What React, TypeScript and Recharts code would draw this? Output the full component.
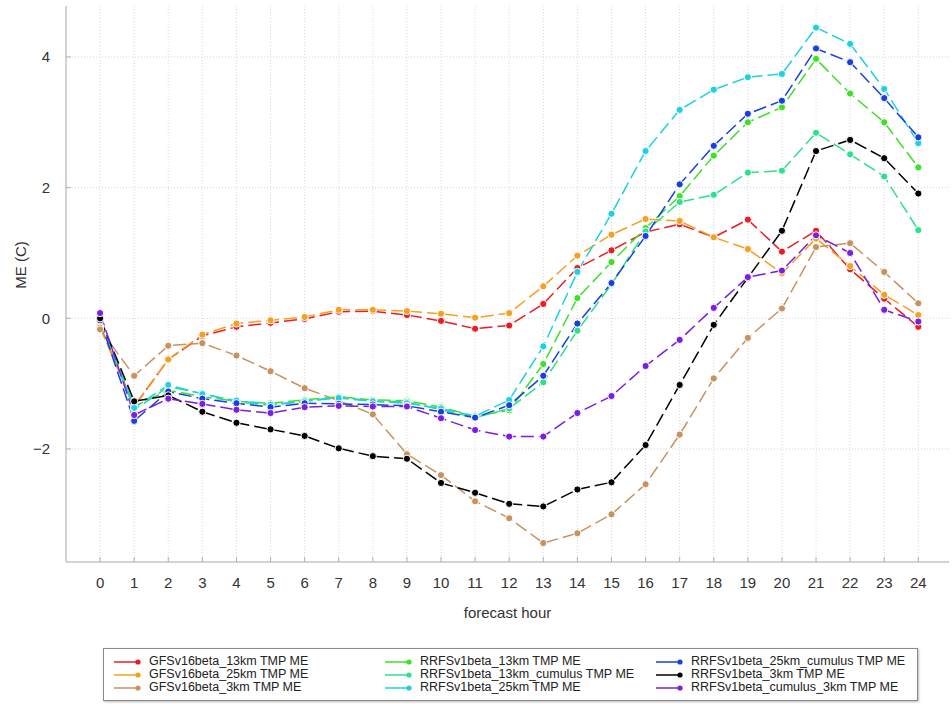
import React from "react";
import { LineChart, Line, XAxis, YAxis, CartesianGrid } from "recharts";

// forecast hours 0..24
const hours = [0, 1, 2, 3, 4, 5, 6, 7, 8, 9, 10, 11, 12, 13, 14, 15, 16, 17, 18, 19, 20, 21, 22, 23, 24];
const yTicks = [-2, 0, 2, 4];

const gfs13km = [-0.12, -1.35, -0.63, -0.27, -0.13, -0.07, -0.01, 0.1, 0.11, 0.05, -0.04, -0.16, -0.11, 0.22, 0.77, 1.04, 1.32, 1.44, 1.24, 1.51, 1.02, 1.34, 0.75, 0.3, -0.13];
const gfs25km = [-0.14, -1.35, -0.63, -0.25, -0.08, -0.03, 0.02, 0.13, 0.13, 0.11, 0.07, 0.01, 0.08, 0.49, 0.96, 1.28, 1.52, 1.49, 1.24, 1.06, 0.69, 1.22, 0.8, 0.36, 0.05];
const gfs3km = [-0.17, -0.88, -0.42, -0.38, -0.57, -0.81, -1.07, -1.26, -1.47, -2.08, -2.4, -2.8, -3.06, -3.44, -3.29, -3.0, -2.54, -1.78, -0.92, -0.3, 0.15, 1.09, 1.15, 0.71, 0.23];
const rrfs13km = [-0.02, -1.35, -1.1, -1.2, -1.27, -1.3, -1.25, -1.2, -1.25, -1.26, -1.36, -1.5, -1.41, -0.7, 0.31, 0.86, 1.38, 1.87, 2.49, 3.0, 3.23, 3.97, 3.44, 3.0, 2.31];
const rrfs13kmCu = [-0.02, -1.4, -1.05, -1.15, -1.28, -1.33, -1.27, -1.2, -1.27, -1.28, -1.4, -1.52, -1.38, -0.98, -0.19, 0.52, 1.33, 1.78, 1.89, 2.23, 2.26, 2.84, 2.51, 2.17, 1.35];
const rrfs25km = [-0.01, -1.37, -1.02, -1.16, -1.26, -1.32, -1.27, -1.22, -1.27, -1.3, -1.38, -1.5, -1.25, -0.43, 0.71, 1.6, 2.56, 3.19, 3.5, 3.69, 3.74, 4.45, 4.2, 3.51, 2.68];
const rrfs25kmCu = [-0.03, -1.57, -1.12, -1.23, -1.3, -1.36, -1.3, -1.31, -1.32, -1.34, -1.43, -1.52, -1.33, -0.88, -0.08, 0.54, 1.26, 2.05, 2.64, 3.13, 3.33, 4.13, 3.92, 3.37, 2.77];
const rrfs3km = [0.0, -1.27, -1.18, -1.43, -1.6, -1.7, -1.8, -1.99, -2.11, -2.15, -2.52, -2.67, -2.84, -2.88, -2.62, -2.51, -1.94, -1.02, -0.1, 0.62, 1.34, 2.56, 2.73, 2.45, 1.91];
const rrfsCu3km = [0.08, -1.48, -1.23, -1.31, -1.4, -1.45, -1.36, -1.34, -1.35, -1.35, -1.53, -1.71, -1.81, -1.81, -1.45, -1.19, -0.73, -0.33, 0.16, 0.63, 0.73, 1.27, 1.0, 0.13, -0.05];

const seriesNames = [
  "GFSv16beta_13km TMP ME",
  "GFSv16beta_25km TMP ME",
  "GFSv16beta_3km TMP ME",
  "RRFSv1beta_13km TMP ME",
  "RRFSv1beta_13km_cumulus TMP ME",
  "RRFSv1beta_25km TMP ME",
  "RRFSv1beta_25km_cumulus TMP ME",
  "RRFSv1beta_3km TMP ME",
  "RRFSv1beta_cumulus_3km TMP ME",
];
const seriesValues = [gfs13km, gfs25km, gfs3km, rrfs13km, rrfs13kmCu, rrfs25km, rrfs25kmCu, rrfs3km, rrfsCu3km];
const seriesColors = ["#ec1c24", "#f4a020", "#c8925e", "#3ee02a", "#2ee08c", "#1ed0e0", "#1a3fe0", "#000000", "#7a1ee0"];

const data = hours.map((h, i) => {
  const row: Record<string, number> = { hour: h };
  seriesValues.forEach((vals, k) => {
    row["s" + k] = vals[i];
  });
  return row;
});

const font = "'Liberation Sans', Arial, sans-serif";
const legendCols = [10, 281, 552];
const frame = { stroke: "#c4c4c4", strokeWidth: 1.5 };

function LegendBox() {
  return (
    <div
      style={{
        position: "absolute",
        left: 103,
        top: 648,
        width: 813,
        height: 51,
        border: "1px solid #8a8a8a",
        boxShadow: "1px 1px 2px #bbb",
        fontFamily: font,
        fontSize: 12.5,
        color: "#222",
        background: "#fff",
      }}
    >
      {seriesNames.map((name, k) => {
        const col = Math.floor(k / 3);
        const row = k % 3;
        return (
          <div
            key={name}
            style={{ position: "absolute", left: legendCols[col], top: 6 + row * 13, height: 13, lineHeight: "13px", whiteSpace: "nowrap", display: "flex", alignItems: "center" }}
          >
            <svg width={28} height={10} style={{ marginRight: 7 }}>
              <line x1={0} y1={5} x2={24} y2={5} stroke={seriesColors[k]} strokeWidth={1.5} />
              <circle cx={24} cy={5} r={2.6} fill={seriesColors[k]} />
            </svg>
            <span>{name}</span>
          </div>
        );
      })}
    </div>
  );
}

export default function App() {
  return (
    <div style={{ position: "absolute", left: 0, top: 0, width: 952, height: 704, background: "#fff" }}>
      <LineChart width={952} height={704} data={data} margin={{ top: 6, right: 3, left: 8, bottom: 92 }}>
        <CartesianGrid stroke="#d8d8d8" strokeDasharray="1 2" verticalValues={hours} horizontalValues={yTicks} />
        <XAxis
          dataKey="hour"
          type="number"
          domain={[-1, 24.9]}
          ticks={hours}
          interval={0}
          allowDataOverflow
          height={50}
          tickLine={{ stroke: "#b0b0b0" }}
          tickSize={-5}
          tickMargin={20}
          axisLine={frame}
          tick={{ fill: "#333", fontSize: 15, fontFamily: font }}
          label={{ value: "forecast hour", position: "insideBottom", offset: -6, fill: "#333", fontSize: 15, fontFamily: font }}
        />
        <XAxis xAxisId="top" orientation="top" dataKey="hour" type="number" domain={[-1, 24.9]} height={0} tick={false} tickLine={false} axisLine={frame} />
        <YAxis
          type="number"
          domain={[-3.73, 4.78]}
          ticks={yTicks}
          allowDataOverflow
          width={58}
          tickLine={{ stroke: "#b0b0b0" }}
          tickSize={-5}
          tickMargin={21}
          axisLine={frame}
          tick={{ fill: "#333", fontSize: 15, fontFamily: font }}
          tickFormatter={(v: number) => (v < 0 ? "\u2212" + Math.abs(v) : String(v))}
          label={{
            content: (p: any) => {
              const vb = p.viewBox;
              const cx = vb.x + 12;
              const cy = vb.y + vb.height / 2 - 19;
              return (
                <text x={cx} y={cy} transform={`rotate(-90 ${cx} ${cy})`} textAnchor="middle" dominantBaseline="central" fill="#333" fontSize={15} fontFamily={font}>
                  ME (C)
                </text>
              );
            },
          }}
        />
        <YAxis yAxisId="right" orientation="right" width={0} tick={false} tickLine={false} axisLine={frame} />
        {seriesNames.map((name, k) => (
          <Line
            key={name}
            name={name}
            dataKey={"s" + k}
            type="linear"
            stroke={seriesColors[k]}
            strokeWidth={1.5}
            strokeDasharray="13 5"
            dot={{ r: 3.6, fill: seriesColors[k], stroke: "#fff", strokeWidth: 1, strokeDasharray: "" }}
            isAnimationActive={false}
          />
        ))}
      </LineChart>
      <LegendBox />
    </div>
  );
}
